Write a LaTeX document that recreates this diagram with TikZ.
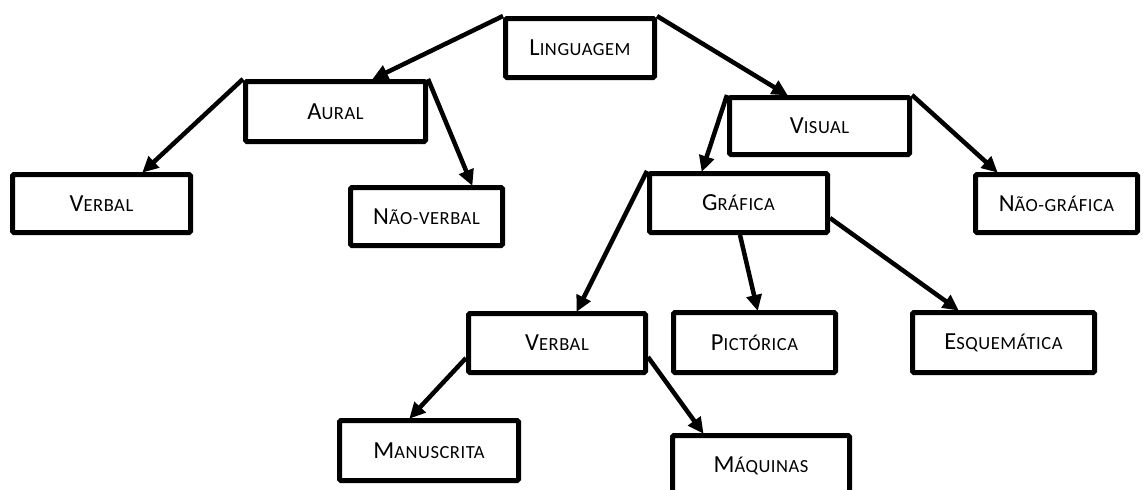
\documentclass[tikz,border=0pt]{standalone}
\usepackage{fontspec}
\setmainfont{Carlito}
\usetikzlibrary{arrows.meta}
\newcommand{\fsc}[2]{{\fontsize{24.5}{27}\selectfont #1}{\fontsize{18.5}{21}\selectfont\addfontfeatures{LetterSpace=3}#2}}
\tikzset{
  box/.style={draw=black, line width=5pt, rounded corners=1.5pt, fill=white, inner sep=0pt},
  conn/.style={line width=4.5pt, -{Triangle[length=16pt,width=15pt]}, shorten >=-1pt}
}
\begin{document}
\begin{tikzpicture}[x=1pt,y=-1pt]
\useasboundingbox (0,0) rectangle (1144,490);
\clip (0,0) rectangle (1144,490);
\node[box, minimum width=149pt, minimum height=59pt] (ling) at (580,48) {\fsc{L}{INGUAGEM}};
\node[box, minimum width=180pt, minimum height=60pt] (aural) at (335.5,111.5) {\fsc{A}{URAL}};
\node[box, minimum width=178pt, minimum height=58pt] (verbal1) at (101.5,203.5) {\fsc{V}{ERBAL}};
\node[box, minimum width=152pt, minimum height=58pt] (naoverbal) at (426.5,216.5) {\fsc{N}{ÃO-VERBAL}};
\node[box, minimum width=180pt, minimum height=57pt] (visual) at (819.5,126) {\fsc{V}{ISUAL}};
\node[box, minimum width=178pt, minimum height=59pt] (grafica) at (738.5,203) {\fsc{G}{RÁFICA}};
\node[box, minimum width=162pt, minimum height=58pt] (naografica) at (1056.5,203.5) {\fsc{N}{ÃO-GRÁFICA}};
\node[box, minimum width=177pt, minimum height=59pt] (verbal2) at (557,343) {\fsc{V}{ERBAL}};
\node[box, minimum width=162pt, minimum height=60pt] (pictorica) at (754.5,342.5) {\fsc{P}{ICTÓRICA}};
\node[box, minimum width=182pt, minimum height=60pt] (esquematica) at (1003.5,342.5) {\fsc{E}{SQUEMÁTICA}};
\node[box, minimum width=179pt, minimum height=60pt] (manuscrita) at (429,450.5) {\fsc{M}{ANUSCRITA}};
\node[box, minimum width=177pt, minimum height=60pt] (maquinas) at (761,465.5) {\fsc{M}{ÁQUINAS}};

\draw[conn] (ling.north west) -- ([xshift=37.5pt]aural.north);
\draw[conn] (ling.north east) -- ([xshift=-32.5pt]visual.north);
\draw[conn] (aural.north west) -- ([xshift=41.5pt]verbal1.north);
\draw[conn] (aural.north east) -- ([xshift=45.5pt]naoverbal.north);
\draw[conn] (visual.north west) -- ([xshift=-36.5pt]grafica.north);
\draw[conn] (visual.north east) -- ([xshift=-59.5pt]naografica.north);
\draw[conn] (grafica.north west) -- ([xshift=20pt]verbal2.north);
\draw[conn] ([xshift=1.5pt]grafica.south) -- ([xshift=3pt]pictorica.north);
\draw[conn] ([yshift=-15pt]grafica.east) -- ([xshift=-45.5pt]esquematica.north);
\draw[conn] ([yshift=-15pt]verbal2.west) -- ([xshift=-19pt]manuscrita.north);
\draw[conn] ([yshift=-14pt]verbal2.east) -- ([xshift=-58pt]maquinas.north);
\end{tikzpicture}
\end{document}
